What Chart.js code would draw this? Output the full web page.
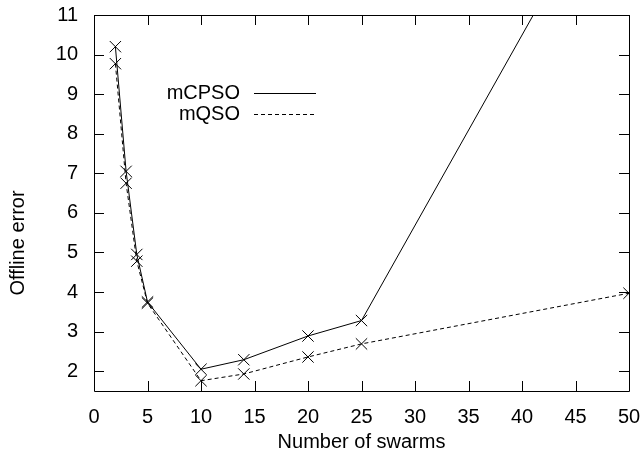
<!DOCTYPE html>
<html>
<head>
<meta charset="utf-8">
<script src="https://cdn.jsdelivr.net/npm/chart.js@4.4.1/dist/chart.umd.min.js"></script>
<style>
  html, body { margin: 0; padding: 0; background: #fff; }
  #wrap { width: 641px; height: 459px; }
</style>
</head>
<body>
<div id="wrap"><canvas id="chart" width="641" height="459"></canvas></div>
<script>
"use strict";

// values
const swarms = [2, 3, 4, 5, 10, 14, 20, 25, 50];
const mcpsoErr = [10.2, 7.05, 4.95, 3.75, 2.05, 2.29, 2.89, 3.28, 15.3];
const mqsoErr = [9.77, 6.75, 4.78, 3.72, 1.76, 1.93, 2.36, 2.69, 3.97];
const xTicks = [0, 5, 10, 15, 20, 25, 30, 35, 40, 45, 50];
const yTicks = [2, 3, 4, 5, 6, 7, 8, 9, 10, 11];
const seriesNames = ["mCPSO", "mQSO"];

const FONT = "'Liberation Sans', Arial, Helvetica, sans-serif";

function toPoints(xs, ys) {
    return xs.map(function (x, i) { return { x: x, y: ys[i] }; });
}

// gnuplot-like frame: border, inward ticks on all sides, key, axis titles
const framePlugin = {
    id: "frame",
    afterDraw: function (chart) {
        const ctx = chart.ctx;
        const a = chart.chartArea;
        const xs = chart.scales.x;
        const ys = chart.scales.y;
        const tl = 10;
        ctx.save();
        ctx.strokeStyle = "#000";
        ctx.lineWidth = 1;
        ctx.beginPath();
        ctx.rect(Math.round(a.left) + 0.5, Math.round(a.top) + 0.5,
            Math.round(a.right - a.left), Math.round(a.bottom - a.top));
        xTicks.forEach(function (v) {
            const px = Math.round(xs.getPixelForValue(v)) + 0.5;
            ctx.moveTo(px, a.bottom); ctx.lineTo(px, a.bottom - tl);
            ctx.moveTo(px, a.top); ctx.lineTo(px, a.top + tl);
        });
        yTicks.forEach(function (v) {
            const py = Math.round(ys.getPixelForValue(v)) + 0.5;
            ctx.moveTo(a.left, py); ctx.lineTo(a.left + tl, py);
            ctx.moveTo(a.right, py); ctx.lineTo(a.right - tl, py);
        });
        ctx.stroke();

        // key
        ctx.font = "20px " + FONT;
        ctx.fillStyle = "#000";
        ctx.textAlign = "right";
        ctx.textBaseline = "middle";
        const keyY = [93, 114];
        chart.data.datasets.forEach(function (ds, i) {
            ctx.fillText(seriesNames[i], 240, keyY[i]);
            ctx.setLineDash(ds.borderDash || []);
            ctx.beginPath();
            ctx.moveTo(254, keyY[i] + 0.5);
            ctx.lineTo(316, keyY[i] + 0.5);
            ctx.stroke();
        });
        ctx.setLineDash([]);

        // axis titles
        ctx.textAlign = "center";
        ctx.fillText("Number of swarms", (a.left + a.right) / 2, 442);
        ctx.translate(18, 243);
        ctx.rotate(-Math.PI / 2);
        ctx.fillText("Offline error", 0, 0);
        ctx.restore();
    }
};

const config = {
    type: "line",
    data: {
        datasets: [{
            label: seriesNames[0],
            data: toPoints(swarms, mcpsoErr),
            borderColor: "#000",
            backgroundColor: "#000",
            borderWidth: 1,
            pointStyle: "crossRot",
            pointRadius: 8,
            pointBorderWidth: 1,
            pointBorderColor: "#000",
            fill: false,
            tension: 0
        }, {
            label: seriesNames[1],
            data: toPoints(swarms, mqsoErr),
            borderColor: "#000",
            backgroundColor: "#000",
            borderWidth: 1,
            borderDash: [4, 3],
            pointStyle: "crossRot",
            pointRadius: 8,
            pointBorderWidth: 1,
            pointBorderColor: "#000",
            fill: false,
            tension: 0
        }]
    },
    options: {
        responsive: false,
        animation: false,
        layout: { padding: { top: 15, right: 12, left: 0, bottom: 0 } },
        plugins: {
            legend: { display: false },
            tooltip: { enabled: false }
        },
        scales: {
            x: {
                type: "linear",
                min: 0,
                max: 50,
                afterBuildTicks: function (s) { s.ticks = xTicks.map(function (v) { return { value: v }; }); },
                afterFit: function (s) { s.height = 68; s.paddingLeft = 0; s.paddingRight = 0; },
                grid: { display: false },
                border: { display: false },
                ticks: { color: "#000", padding: 6, maxRotation: 0, font: { family: FONT, size: 20 } }
            },
            y: {
                type: "linear",
                min: 1.5,
                max: 11,
                afterBuildTicks: function (s) { s.ticks = yTicks.map(function (v) { return { value: v }; }); },
                afterFit: function (s) { s.width = 94; s.paddingTop = 0; s.paddingBottom = 0; },
                grid: { display: false },
                border: { display: false },
                ticks: { color: "#000", padding: 8, font: { family: FONT, size: 20 } }
            }
        }
    },
    plugins: [framePlugin]
};

new Chart(document.getElementById("chart"), config);
</script>
</body>
</html>
